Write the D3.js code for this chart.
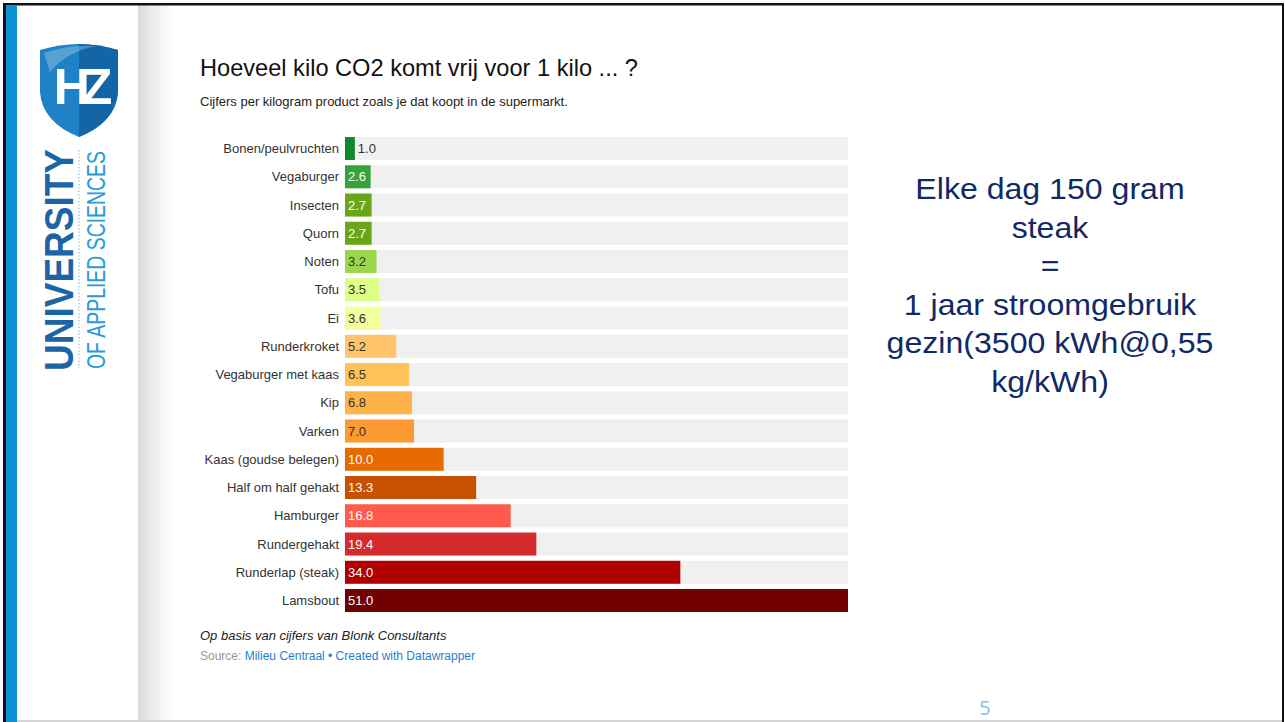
<!DOCTYPE html>
<html>
<head>
<meta charset="utf-8">
<script src="https://cdn.jsdelivr.net/npm/d3@7"></script>
<style>
  html, body { margin: 0; padding: 0; background: #fff; }
  svg { display: block; }
</style>
</head>
<body>
<svg id="slide" width="1285" height="722"></svg>
<script>
// CO2 per kilo product (kg CO2 / kg), as bought in the supermarket
const categories = [
  "Bonen/peulvruchten", "Vegaburger", "Insecten", "Quorn", "Noten", "Tofu", "Ei",
  "Runderkroket", "Vegaburger met kaas", "Kip", "Varken", "Kaas (goudse belegen)",
  "Half om half gehakt", "Hamburger", "Rundergehakt", "Runderlap (steak)", "Lamsbout"
];
const values = [1.0, 2.6, 2.7, 2.7, 3.2, 3.5, 3.6, 5.2, 6.5, 6.8, 7.0, 10.0, 13.3, 16.8, 19.4, 34.0, 51.0];
const barColors = [
  "#0e8a2c", "#36a33a", "#68a518", "#68a518", "#9bd64b", "#ddff88", "#f1ff9c",
  "#ffc46c", "#ffc257", "#ffb24a", "#fd9932", "#e66a00",
  "#c65200", "#ff5a4c", "#d62b2d", "#b00000", "#730000"
];
const sideLines = [
  "Elke dag 150 gram", "steak", "=", "1 jaar stroomgebruik",
  "gezin(3500 kWh@0,55", "kg/kWh)"
];

const svg = d3.select("#slide");
const font = "'Liberation Sans', Arial, sans-serif";

// ---- slide frame ----
const defs = svg.append("defs");
const grad = defs.append("linearGradient").attr("id", "shade")
  .attr("x1", "0%").attr("x2", "100%");
grad.append("stop").attr("offset", "0%").attr("stop-color", "#d9d9d9");
grad.append("stop").attr("offset", "35%").attr("stop-color", "#e8e8e8");
grad.append("stop").attr("offset", "100%").attr("stop-color", "#ffffff");

svg.append("rect").attr("x", 138).attr("y", 5).attr("width", 34).attr("height", 717)
  .attr("fill", "url(#shade)");
svg.append("rect").attr("x", 3).attr("y", 3).attr("width", 1281).attr("height", 2.5).attr("fill", "#111");
svg.append("rect").attr("x", 3).attr("y", 3).attr("width", 3).attr("height", 719).attr("fill", "#111");
svg.append("rect").attr("x", 1282).attr("y", 3).attr("width", 2).attr("height", 719).attr("fill", "#111");
svg.append("rect").attr("x", 6).attr("y", 5).attr("width", 11).attr("height", 717).attr("fill", "#0a91d6");
svg.append("rect").attr("x", 17).attr("y", 720).attr("width", 1265).attr("height", 2).attr("fill", "#d4d4d4");

// ---- logo ----
const logo = svg.append("g");
const shield = "M40,50 Q79,38 118,50 L118,92 Q116,122 79,137 Q42,122 40,92 Z";
logo.append("path").attr("d", shield).attr("fill", "#1f82c6");
logo.append("clipPath").attr("id", "rightHalf")
  .append("rect").attr("x", 79).attr("y", 30).attr("width", 50).attr("height", 120);
logo.append("path").attr("d", shield).attr("fill", "#1465a6").attr("clip-path", "url(#rightHalf)");
logo.append("path").attr("d", "M44,53 Q70,44 96,46 Q66,52 50,72 Z").attr("fill", "#ffffff").attr("opacity", 0.25);
logo.append("text").attr("x", 79).attr("y", 104).attr("text-anchor", "middle")
  .attr("font-family", font).attr("font-weight", "bold").attr("font-size", 50)
  .attr("letter-spacing", -8).attr("fill", "#fff").text("HZ");

logo.append("text").attr("transform", "translate(73,260) rotate(-90)")
  .attr("text-anchor", "middle").attr("font-family", font).attr("font-weight", "bold")
  .attr("font-size", 41).attr("textLength", 222).attr("lengthAdjust", "spacingAndGlyphs")
  .attr("fill", "#1d64a6").text("UNIVERSITY");
logo.append("line").attr("x1", 79).attr("x2", 79).attr("y1", 150).attr("y2", 368)
  .attr("stroke", "#7fb4d8").attr("stroke-width", 1.2).attr("stroke-dasharray", "1.2,2.2");
logo.append("text").attr("transform", "translate(105,260) rotate(-90)")
  .attr("text-anchor", "middle").attr("font-family", font)
  .attr("font-size", 25).attr("textLength", 218).attr("lengthAdjust", "spacingAndGlyphs")
  .attr("fill", "#2b9ad8").text("OF APPLIED SCIENCES");

// ---- chart header ----
svg.append("text").attr("x", 200).attr("y", 76).attr("font-family", font)
  .attr("font-size", 23.6).attr("fill", "#111")
  .text("Hoeveel kilo CO2 komt vrij voor 1 kilo ... ?");
svg.append("text").attr("x", 200).attr("y", 106).attr("font-family", font)
  .attr("font-size", 13).attr("fill", "#222")
  .text("Cijfers per kilogram product zoals je dat koopt in de supermarkt.");

// ---- bars ----
const x = d3.scaleLinear().domain([0, d3.max(values)]).range([345, 848]);
const y = d3.scaleBand().domain(categories).range([134.4, 614.65])
  .paddingInner(0.186).paddingOuter(0.093);

const data = categories.map((c, i) => ({ cat: c, val: values[i], color: barColors[i] }));
const rows = svg.append("g").selectAll("g").data(data).join("g");

rows.append("rect").attr("x", x(0)).attr("y", d => y(d.cat))
  .attr("width", x.range()[1] - x(0)).attr("height", y.bandwidth()).attr("fill", "#f0f0f0");
rows.append("rect").attr("x", x(0)).attr("y", d => y(d.cat))
  .attr("width", d => x(d.val) - x(0)).attr("height", y.bandwidth()).attr("fill", d => d.color);

rows.append("text").attr("x", x(0) - 6).attr("y", d => y(d.cat) + y.bandwidth() / 2)
  .attr("dy", "0.35em").attr("text-anchor", "end").attr("font-family", font)
  .attr("font-size", 13).attr("fill", "#333").text(d => d.cat);

const fmt = d3.format(".1f");
rows.append("text")
  .attr("x", d => (x(d.val) - x(0) < 20 ? x(d.val) + 3 : x(0) + 3))
  .attr("y", d => y(d.cat) + y.bandwidth() / 2).attr("dy", "0.35em")
  .attr("font-family", font).attr("font-size", 13)
  .attr("fill", d => (x(d.val) - x(0) < 20 || d3.lab(d.color).l > 66 ? "#333" : "#fff"))
  .text(d => fmt(d.val));

// ---- notes ----
svg.append("text").attr("x", 200).attr("y", 640).attr("font-family", font)
  .attr("font-size", 13).attr("font-style", "italic").attr("fill", "#222")
  .text("Op basis van cijfers van Blonk Consultants");
const src = svg.append("text").attr("x", 200).attr("y", 660).attr("font-family", font)
  .attr("font-size", 12);
src.append("tspan").attr("fill", "#999").text("Source: ");
src.append("tspan").attr("fill", "#1f80d0").text("Milieu Centraal");
src.append("tspan").attr("fill", "#1f80d0").text(" \u2022 Created with Datawrapper");

// ---- side statement ----
svg.append("g").attr("transform", "translate(1050,0) scale(1.07,1)")
  .selectAll("text").data(sideLines).join("text")
  .attr("x", 0).attr("y", (d, i) => 199 + i * 38.6)
  .attr("text-anchor", "middle").attr("font-family", font).attr("font-size", 30)
  .attr("fill", "#0f2a66").text(d => d);

// ---- slide number ----
svg.append("text").attr("x", 985).attr("y", 715).attr("text-anchor", "middle")
  .attr("font-family", "'Open Sans', 'DejaVu Sans', sans-serif").attr("font-size", 20)
  .attr("fill", "#8bbde6").text("5");
</script>
</body>
</html>
